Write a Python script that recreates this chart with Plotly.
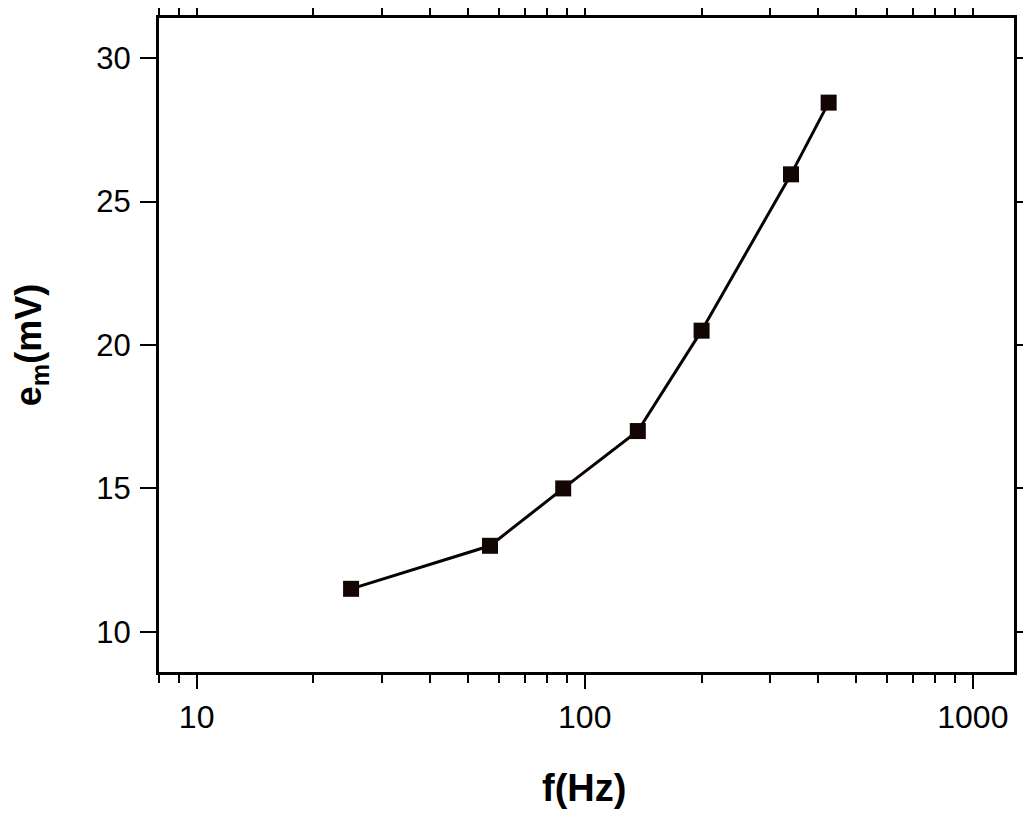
import plotly.graph_objects as go

freq_hz = [25, 57, 88, 137, 200, 340, 425]
em_mv = [11.5, 13.0, 15.0, 17.0, 20.5, 25.95, 28.45]
x_tick_vals = [10, 100, 1000]
x_tick_text = ["10", "100", "1000"]
y_tick_vals = [10, 15, 20, 25, 30]

FONT = "Liberation Sans, Arial, Helvetica, sans-serif"

fig = go.Figure()
fig.add_trace(go.Scatter(
    x=freq_hz, y=em_mv, mode="lines+markers",
    line=dict(color="#0a0202", width=3),
    marker=dict(symbol="square", size=16, color="#140505"),
    showlegend=False,
))

# page body has an 8px default margin, so the figure is sized/offset to compensate
fig.update_layout(
    width=1023, height=811,
    margin=dict(l=151, r=17, t=10, b=147),
    paper_bgcolor="white", plot_bgcolor="white",
    font=dict(family=FONT, color="black", size=31),
    xaxis=dict(
        type="log", range=[0.903, 3.106], automargin=False,
        tickvals=x_tick_vals, ticktext=x_tick_text,
        ticks="outside", ticklen=14, tickwidth=2, tickcolor="black",
        minor=dict(ticks="outside", ticklen=8, tickwidth=2, tickcolor="black",
                   dtick="D1", showgrid=False),
        showline=True, linewidth=3, linecolor="black", mirror="ticks",
        showgrid=False, zeroline=False,
        tickfont=dict(size=32, family=FONT),
        ticklabelstandoff=1,
    ),
    yaxis=dict(
        range=[8.6, 31.4], automargin=False,
        tickvals=y_tick_vals,
        ticks="outside", ticklen=16, tickwidth=2, tickcolor="black",
        showline=True, linewidth=3, linecolor="black", mirror="ticks",
        showgrid=False, zeroline=False,
        tickfont=dict(size=31, family=FONT),
        ticklabelstandoff=3,
        title=dict(text="<b>e<sub>m</sub>(mV)</b>", standoff=50,
                   font=dict(size=36, family=FONT, color="black")),
    ),
    annotations=[
        dict(text="<b>f(Hz)</b>", xref="paper", yref="paper",
             x=0.497, y=-0.177, xanchor="center", yanchor="middle",
             showarrow=False, font=dict(size=38, family=FONT, color="black")),
    ],
)

fig.write_html("out.html")
